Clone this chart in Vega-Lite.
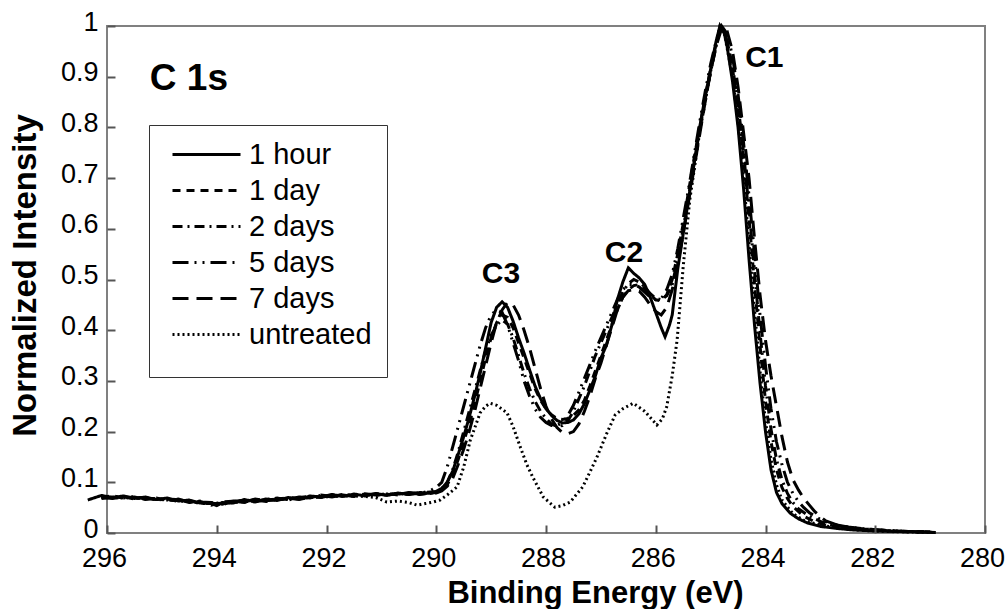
{
"$schema": "https://vega.github.io/schema/vega-lite/v6.json",
"width": 878, "height": 507,
"autosize": "none",
"padding": {"left": 107, "top": 26, "right": 20, "bottom": 76},
"background": "white",
"config": {"view": {"stroke": "#808080", "strokeWidth": 2}, "font": "Liberation Sans"},
"datasets": {
"spectra": [
{"s":"1 hour","x":296.35,"y":0.065},{"s":"1 hour","x":296.3,"y":0.067},{"s":"1 hour","x":296.1,"y":0.074},{"s":"1 hour","x":295.9,"y":0.070},{"s":"1 hour","x":295.7,"y":0.073},{"s":"1 hour","x":295.5,"y":0.068},{"s":"1 hour","x":295.3,"y":0.071},{"s":"1 hour","x":295.1,"y":0.066},{"s":"1 hour","x":294.9,"y":0.069},{"s":"1 hour","x":294.7,"y":0.063},{"s":"1 hour","x":294.5,"y":0.065},{"s":"1 hour","x":294.3,"y":0.059},{"s":"1 hour","x":294.1,"y":0.058},{"s":"1 hour","x":294.0,"y":0.054},{"s":"1 hour","x":293.9,"y":0.060},{"s":"1 hour","x":293.7,"y":0.059},{"s":"1 hour","x":293.5,"y":0.066},{"s":"1 hour","x":293.3,"y":0.062},{"s":"1 hour","x":293.1,"y":0.067},{"s":"1 hour","x":292.9,"y":0.064},{"s":"1 hour","x":292.7,"y":0.070},{"s":"1 hour","x":292.5,"y":0.067},{"s":"1 hour","x":292.3,"y":0.073},{"s":"1 hour","x":292.1,"y":0.071},{"s":"1 hour","x":291.9,"y":0.076},{"s":"1 hour","x":291.7,"y":0.072},{"s":"1 hour","x":291.5,"y":0.077},{"s":"1 hour","x":291.3,"y":0.073},{"s":"1 hour","x":291.1,"y":0.078},{"s":"1 hour","x":290.9,"y":0.074},{"s":"1 hour","x":290.7,"y":0.079},{"s":"1 hour","x":290.5,"y":0.076},{"s":"1 hour","x":290.3,"y":0.080},{"s":"1 hour","x":290.1,"y":0.078},{"s":"1 hour","x":290.0,"y":0.082},{"s":"1 hour","x":289.9,"y":0.088},{"s":"1 hour","x":289.8,"y":0.100},{"s":"1 hour","x":289.7,"y":0.122},{"s":"1 hour","x":289.6,"y":0.155},{"s":"1 hour","x":289.5,"y":0.19},{"s":"1 hour","x":289.4,"y":0.228},{"s":"1 hour","x":289.3,"y":0.27},{"s":"1 hour","x":289.2,"y":0.315},{"s":"1 hour","x":289.1,"y":0.365},{"s":"1 hour","x":289.0,"y":0.415},{"s":"1 hour","x":288.9,"y":0.445},{"s":"1 hour","x":288.8,"y":0.456},{"s":"1 hour","x":288.7,"y":0.445},{"s":"1 hour","x":288.6,"y":0.418},{"s":"1 hour","x":288.5,"y":0.385},{"s":"1 hour","x":288.4,"y":0.355},{"s":"1 hour","x":288.3,"y":0.322},{"s":"1 hour","x":288.2,"y":0.29},{"s":"1 hour","x":288.1,"y":0.265},{"s":"1 hour","x":288.0,"y":0.245},{"s":"1 hour","x":287.9,"y":0.232},{"s":"1 hour","x":287.8,"y":0.222},{"s":"1 hour","x":287.7,"y":0.217},{"s":"1 hour","x":287.6,"y":0.218},{"s":"1 hour","x":287.5,"y":0.223},{"s":"1 hour","x":287.4,"y":0.235},{"s":"1 hour","x":287.3,"y":0.255},{"s":"1 hour","x":287.2,"y":0.282},{"s":"1 hour","x":287.1,"y":0.31},{"s":"1 hour","x":287.0,"y":0.345},{"s":"1 hour","x":286.9,"y":0.37},{"s":"1 hour","x":286.8,"y":0.41},{"s":"1 hour","x":286.7,"y":0.46},{"s":"1 hour","x":286.6,"y":0.495},{"s":"1 hour","x":286.5,"y":0.523},{"s":"1 hour","x":286.4,"y":0.512},{"s":"1 hour","x":286.3,"y":0.503},{"s":"1 hour","x":286.2,"y":0.49},{"s":"1 hour","x":286.1,"y":0.465},{"s":"1 hour","x":286.0,"y":0.435},{"s":"1 hour","x":285.9,"y":0.405},{"s":"1 hour","x":285.83,"y":0.387},{"s":"1 hour","x":285.75,"y":0.41},{"s":"1 hour","x":285.7,"y":0.43},{"s":"1 hour","x":285.6,"y":0.52},{"s":"1 hour","x":285.5,"y":0.59},{"s":"1 hour","x":285.4,"y":0.66},{"s":"1 hour","x":285.3,"y":0.73},{"s":"1 hour","x":285.2,"y":0.80},{"s":"1 hour","x":285.1,"y":0.86},{"s":"1 hour","x":285.0,"y":0.915},{"s":"1 hour","x":284.9,"y":0.97},{"s":"1 hour","x":284.83,"y":1.0},{"s":"1 hour","x":284.75,"y":0.985},{"s":"1 hour","x":284.7,"y":0.96},{"s":"1 hour","x":284.6,"y":0.89},{"s":"1 hour","x":284.5,"y":0.80},{"s":"1 hour","x":284.4,"y":0.68},{"s":"1 hour","x":284.3,"y":0.54},{"s":"1 hour","x":284.2,"y":0.41},{"s":"1 hour","x":284.1,"y":0.296},{"s":"1 hour","x":284.0,"y":0.20},{"s":"1 hour","x":283.9,"y":0.125},{"s":"1 hour","x":283.8,"y":0.08},{"s":"1 hour","x":283.7,"y":0.058},{"s":"1 hour","x":283.55,"y":0.039},{"s":"1 hour","x":283.4,"y":0.028},{"s":"1 hour","x":283.24,"y":0.02},{"s":"1 hour","x":283.0,"y":0.013},{"s":"1 hour","x":282.7,"y":0.009},{"s":"1 hour","x":282.4,"y":0.006},{"s":"1 hour","x":282.0,"y":0.004},{"s":"1 hour","x":281.6,"y":0.003},{"s":"1 hour","x":281.2,"y":0.002},{"s":"1 hour","x":280.9,"y":0.001},

{"s":"1 day","x":296.1,"y":0.069},{"s":"1 day","x":295.9,"y":0.074},{"s":"1 day","x":295.7,"y":0.068},{"s":"1 day","x":295.5,"y":0.071},{"s":"1 day","x":295.3,"y":0.066},{"s":"1 day","x":295.1,"y":0.069},{"s":"1 day","x":294.9,"y":0.064},{"s":"1 day","x":294.7,"y":0.066},{"s":"1 day","x":294.5,"y":0.060},{"s":"1 day","x":294.3,"y":0.062},{"s":"1 day","x":294.1,"y":0.055},{"s":"1 day","x":293.9,"y":0.061},{"s":"1 day","x":293.7,"y":0.063},{"s":"1 day","x":293.5,"y":0.060},{"s":"1 day","x":293.3,"y":0.066},{"s":"1 day","x":293.1,"y":0.063},{"s":"1 day","x":292.9,"y":0.068},{"s":"1 day","x":292.7,"y":0.066},{"s":"1 day","x":292.5,"y":0.071},{"s":"1 day","x":292.3,"y":0.069},{"s":"1 day","x":292.1,"y":0.075},{"s":"1 day","x":291.9,"y":0.072},{"s":"1 day","x":291.7,"y":0.076},{"s":"1 day","x":291.5,"y":0.073},{"s":"1 day","x":291.3,"y":0.077},{"s":"1 day","x":291.1,"y":0.074},{"s":"1 day","x":290.9,"y":0.078},{"s":"1 day","x":290.7,"y":0.075},{"s":"1 day","x":290.5,"y":0.079},{"s":"1 day","x":290.3,"y":0.076},{"s":"1 day","x":290.1,"y":0.079},{"s":"1 day","x":290.0,"y":0.080},{"s":"1 day","x":289.9,"y":0.085},{"s":"1 day","x":289.8,"y":0.095},{"s":"1 day","x":289.7,"y":0.115},{"s":"1 day","x":289.6,"y":0.145},{"s":"1 day","x":289.5,"y":0.18},{"s":"1 day","x":289.4,"y":0.215},{"s":"1 day","x":289.3,"y":0.255},{"s":"1 day","x":289.2,"y":0.30},{"s":"1 day","x":289.1,"y":0.345},{"s":"1 day","x":289.0,"y":0.385},{"s":"1 day","x":288.9,"y":0.415},{"s":"1 day","x":288.8,"y":0.43},{"s":"1 day","x":288.7,"y":0.425},{"s":"1 day","x":288.6,"y":0.405},{"s":"1 day","x":288.5,"y":0.375},{"s":"1 day","x":288.4,"y":0.345},{"s":"1 day","x":288.3,"y":0.315},{"s":"1 day","x":288.2,"y":0.285},{"s":"1 day","x":288.1,"y":0.262},{"s":"1 day","x":288.0,"y":0.245},{"s":"1 day","x":287.9,"y":0.233},{"s":"1 day","x":287.8,"y":0.226},{"s":"1 day","x":287.7,"y":0.224},{"s":"1 day","x":287.6,"y":0.226},{"s":"1 day","x":287.5,"y":0.232},{"s":"1 day","x":287.4,"y":0.243},{"s":"1 day","x":287.3,"y":0.262},{"s":"1 day","x":287.2,"y":0.29},{"s":"1 day","x":287.1,"y":0.32},{"s":"1 day","x":287.0,"y":0.35},{"s":"1 day","x":286.9,"y":0.38},{"s":"1 day","x":286.8,"y":0.41},{"s":"1 day","x":286.7,"y":0.44},{"s":"1 day","x":286.6,"y":0.465},{"s":"1 day","x":286.5,"y":0.48},{"s":"1 day","x":286.4,"y":0.488},{"s":"1 day","x":286.3,"y":0.49},{"s":"1 day","x":286.2,"y":0.482},{"s":"1 day","x":286.1,"y":0.47},{"s":"1 day","x":286.0,"y":0.46},{"s":"1 day","x":285.9,"y":0.458},{"s":"1 day","x":285.8,"y":0.47},{"s":"1 day","x":285.7,"y":0.50},{"s":"1 day","x":285.6,"y":0.55},{"s":"1 day","x":285.5,"y":0.61},{"s":"1 day","x":285.4,"y":0.675},{"s":"1 day","x":285.3,"y":0.74},{"s":"1 day","x":285.2,"y":0.80},{"s":"1 day","x":285.1,"y":0.86},{"s":"1 day","x":285.0,"y":0.915},{"s":"1 day","x":284.9,"y":0.965},{"s":"1 day","x":284.82,"y":1.0},{"s":"1 day","x":284.75,"y":0.99},{"s":"1 day","x":284.7,"y":0.97},{"s":"1 day","x":284.6,"y":0.915},{"s":"1 day","x":284.5,"y":0.84},{"s":"1 day","x":284.4,"y":0.74},{"s":"1 day","x":284.3,"y":0.62},{"s":"1 day","x":284.2,"y":0.49},{"s":"1 day","x":284.1,"y":0.37},{"s":"1 day","x":284.0,"y":0.26},{"s":"1 day","x":283.9,"y":0.18},{"s":"1 day","x":283.8,"y":0.125},{"s":"1 day","x":283.7,"y":0.09},{"s":"1 day","x":283.6,"y":0.068},{"s":"1 day","x":283.5,"y":0.052},{"s":"1 day","x":283.3,"y":0.033},{"s":"1 day","x":283.1,"y":0.022},{"s":"1 day","x":282.9,"y":0.015},{"s":"1 day","x":282.6,"y":0.01},{"s":"1 day","x":282.3,"y":0.007},{"s":"1 day","x":282.0,"y":0.005},{"s":"1 day","x":281.6,"y":0.003},{"s":"1 day","x":281.2,"y":0.002},{"s":"1 day","x":280.9,"y":0.001},

{"s":"2 days","x":296.1,"y":0.072},{"s":"2 days","x":295.9,"y":0.069},{"s":"2 days","x":295.7,"y":0.072},{"s":"2 days","x":295.5,"y":0.067},{"s":"2 days","x":295.3,"y":0.070},{"s":"2 days","x":295.1,"y":0.065},{"s":"2 days","x":294.9,"y":0.067},{"s":"2 days","x":294.7,"y":0.062},{"s":"2 days","x":294.5,"y":0.064},{"s":"2 days","x":294.3,"y":0.058},{"s":"2 days","x":294.1,"y":0.059},{"s":"2 days","x":293.9,"y":0.056},{"s":"2 days","x":293.7,"y":0.062},{"s":"2 days","x":293.5,"y":0.065},{"s":"2 days","x":293.3,"y":0.061},{"s":"2 days","x":293.1,"y":0.066},{"s":"2 days","x":292.9,"y":0.069},{"s":"2 days","x":292.7,"y":0.065},{"s":"2 days","x":292.5,"y":0.070},{"s":"2 days","x":292.3,"y":0.072},{"s":"2 days","x":292.1,"y":0.070},{"s":"2 days","x":291.9,"y":0.075},{"s":"2 days","x":291.7,"y":0.073},{"s":"2 days","x":291.5,"y":0.076},{"s":"2 days","x":291.3,"y":0.074},{"s":"2 days","x":291.1,"y":0.077},{"s":"2 days","x":290.9,"y":0.075},{"s":"2 days","x":290.7,"y":0.078},{"s":"2 days","x":290.5,"y":0.076},{"s":"2 days","x":290.3,"y":0.079},{"s":"2 days","x":290.1,"y":0.081},{"s":"2 days","x":290.0,"y":0.082},{"s":"2 days","x":289.9,"y":0.088},{"s":"2 days","x":289.8,"y":0.10},{"s":"2 days","x":289.7,"y":0.125},{"s":"2 days","x":289.6,"y":0.16},{"s":"2 days","x":289.5,"y":0.20},{"s":"2 days","x":289.4,"y":0.24},{"s":"2 days","x":289.3,"y":0.28},{"s":"2 days","x":289.2,"y":0.32},{"s":"2 days","x":289.1,"y":0.36},{"s":"2 days","x":289.0,"y":0.39},{"s":"2 days","x":288.9,"y":0.41},{"s":"2 days","x":288.8,"y":0.42},{"s":"2 days","x":288.7,"y":0.412},{"s":"2 days","x":288.6,"y":0.385},{"s":"2 days","x":288.5,"y":0.35},{"s":"2 days","x":288.4,"y":0.315},{"s":"2 days","x":288.3,"y":0.285},{"s":"2 days","x":288.2,"y":0.26},{"s":"2 days","x":288.1,"y":0.24},{"s":"2 days","x":288.0,"y":0.226},{"s":"2 days","x":287.9,"y":0.215},{"s":"2 days","x":287.8,"y":0.21},{"s":"2 days","x":287.7,"y":0.212},{"s":"2 days","x":287.6,"y":0.222},{"s":"2 days","x":287.5,"y":0.24},{"s":"2 days","x":287.4,"y":0.265},{"s":"2 days","x":287.3,"y":0.29},{"s":"2 days","x":287.2,"y":0.32},{"s":"2 days","x":287.1,"y":0.35},{"s":"2 days","x":287.0,"y":0.375},{"s":"2 days","x":286.9,"y":0.40},{"s":"2 days","x":286.8,"y":0.425},{"s":"2 days","x":286.7,"y":0.45},{"s":"2 days","x":286.6,"y":0.475},{"s":"2 days","x":286.5,"y":0.492},{"s":"2 days","x":286.4,"y":0.50},{"s":"2 days","x":286.3,"y":0.495},{"s":"2 days","x":286.2,"y":0.485},{"s":"2 days","x":286.1,"y":0.472},{"s":"2 days","x":286.0,"y":0.463},{"s":"2 days","x":285.9,"y":0.46},{"s":"2 days","x":285.8,"y":0.468},{"s":"2 days","x":285.7,"y":0.49},{"s":"2 days","x":285.6,"y":0.54},{"s":"2 days","x":285.5,"y":0.60},{"s":"2 days","x":285.4,"y":0.665},{"s":"2 days","x":285.3,"y":0.73},{"s":"2 days","x":285.2,"y":0.795},{"s":"2 days","x":285.1,"y":0.855},{"s":"2 days","x":285.0,"y":0.91},{"s":"2 days","x":284.9,"y":0.96},{"s":"2 days","x":284.82,"y":1.0},{"s":"2 days","x":284.75,"y":0.99},{"s":"2 days","x":284.7,"y":0.97},{"s":"2 days","x":284.6,"y":0.92},{"s":"2 days","x":284.5,"y":0.845},{"s":"2 days","x":284.4,"y":0.75},{"s":"2 days","x":284.3,"y":0.64},{"s":"2 days","x":284.2,"y":0.515},{"s":"2 days","x":284.1,"y":0.395},{"s":"2 days","x":284.0,"y":0.29},{"s":"2 days","x":283.9,"y":0.205},{"s":"2 days","x":283.8,"y":0.145},{"s":"2 days","x":283.7,"y":0.105},{"s":"2 days","x":283.6,"y":0.078},{"s":"2 days","x":283.5,"y":0.06},{"s":"2 days","x":283.4,"y":0.048},{"s":"2 days","x":283.2,"y":0.033},{"s":"2 days","x":283.0,"y":0.023},{"s":"2 days","x":282.8,"y":0.016},{"s":"2 days","x":282.5,"y":0.011},{"s":"2 days","x":282.2,"y":0.008},{"s":"2 days","x":281.8,"y":0.005},{"s":"2 days","x":281.4,"y":0.003},{"s":"2 days","x":281.0,"y":0.002},

{"s":"5 days","x":296.1,"y":0.068},{"s":"5 days","x":295.9,"y":0.071},{"s":"5 days","x":295.7,"y":0.069},{"s":"5 days","x":295.5,"y":0.072},{"s":"5 days","x":295.3,"y":0.067},{"s":"5 days","x":295.1,"y":0.068},{"s":"5 days","x":294.9,"y":0.065},{"s":"5 days","x":294.7,"y":0.067},{"s":"5 days","x":294.5,"y":0.061},{"s":"5 days","x":294.3,"y":0.063},{"s":"5 days","x":294.1,"y":0.056},{"s":"5 days","x":293.9,"y":0.059},{"s":"5 days","x":293.7,"y":0.060},{"s":"5 days","x":293.5,"y":0.064},{"s":"5 days","x":293.3,"y":0.065},{"s":"5 days","x":293.1,"y":0.062},{"s":"5 days","x":292.9,"y":0.067},{"s":"5 days","x":292.7,"y":0.069},{"s":"5 days","x":292.5,"y":0.066},{"s":"5 days","x":292.3,"y":0.071},{"s":"5 days","x":292.1,"y":0.074},{"s":"5 days","x":291.9,"y":0.071},{"s":"5 days","x":291.7,"y":0.075},{"s":"5 days","x":291.5,"y":0.074},{"s":"5 days","x":291.3,"y":0.077},{"s":"5 days","x":291.1,"y":0.075},{"s":"5 days","x":290.9,"y":0.077},{"s":"5 days","x":290.7,"y":0.076},{"s":"5 days","x":290.5,"y":0.080},{"s":"5 days","x":290.3,"y":0.078},{"s":"5 days","x":290.1,"y":0.084},{"s":"5 days","x":290.0,"y":0.090},{"s":"5 days","x":289.9,"y":0.10},{"s":"5 days","x":289.8,"y":0.13},{"s":"5 days","x":289.7,"y":0.17},{"s":"5 days","x":289.6,"y":0.21},{"s":"5 days","x":289.5,"y":0.25},{"s":"5 days","x":289.4,"y":0.29},{"s":"5 days","x":289.3,"y":0.33},{"s":"5 days","x":289.2,"y":0.37},{"s":"5 days","x":289.1,"y":0.405},{"s":"5 days","x":289.0,"y":0.43},{"s":"5 days","x":288.9,"y":0.44},{"s":"5 days","x":288.8,"y":0.435},{"s":"5 days","x":288.7,"y":0.41},{"s":"5 days","x":288.6,"y":0.375},{"s":"5 days","x":288.5,"y":0.34},{"s":"5 days","x":288.4,"y":0.30},{"s":"5 days","x":288.3,"y":0.27},{"s":"5 days","x":288.2,"y":0.245},{"s":"5 days","x":288.1,"y":0.228},{"s":"5 days","x":288.0,"y":0.218},{"s":"5 days","x":287.9,"y":0.212},{"s":"5 days","x":287.8,"y":0.212},{"s":"5 days","x":287.7,"y":0.218},{"s":"5 days","x":287.6,"y":0.232},{"s":"5 days","x":287.5,"y":0.252},{"s":"5 days","x":287.4,"y":0.278},{"s":"5 days","x":287.3,"y":0.305},{"s":"5 days","x":287.2,"y":0.332},{"s":"5 days","x":287.1,"y":0.36},{"s":"5 days","x":287.0,"y":0.385},{"s":"5 days","x":286.9,"y":0.41},{"s":"5 days","x":286.8,"y":0.435},{"s":"5 days","x":286.7,"y":0.46},{"s":"5 days","x":286.6,"y":0.48},{"s":"5 days","x":286.5,"y":0.49},{"s":"5 days","x":286.4,"y":0.49},{"s":"5 days","x":286.3,"y":0.485},{"s":"5 days","x":286.2,"y":0.475},{"s":"5 days","x":286.1,"y":0.465},{"s":"5 days","x":286.0,"y":0.46},{"s":"5 days","x":285.9,"y":0.462},{"s":"5 days","x":285.8,"y":0.48},{"s":"5 days","x":285.7,"y":0.51},{"s":"5 days","x":285.6,"y":0.56},{"s":"5 days","x":285.5,"y":0.62},{"s":"5 days","x":285.4,"y":0.68},{"s":"5 days","x":285.3,"y":0.745},{"s":"5 days","x":285.2,"y":0.81},{"s":"5 days","x":285.1,"y":0.87},{"s":"5 days","x":285.0,"y":0.925},{"s":"5 days","x":284.9,"y":0.97},{"s":"5 days","x":284.8,"y":1.0},{"s":"5 days","x":284.7,"y":0.985},{"s":"5 days","x":284.6,"y":0.94},{"s":"5 days","x":284.5,"y":0.865},{"s":"5 days","x":284.4,"y":0.77},{"s":"5 days","x":284.3,"y":0.665},{"s":"5 days","x":284.2,"y":0.55},{"s":"5 days","x":284.1,"y":0.43},{"s":"5 days","x":284.0,"y":0.33},{"s":"5 days","x":283.9,"y":0.245},{"s":"5 days","x":283.8,"y":0.18},{"s":"5 days","x":283.7,"y":0.135},{"s":"5 days","x":283.6,"y":0.10},{"s":"5 days","x":283.5,"y":0.078},{"s":"5 days","x":283.4,"y":0.062},{"s":"5 days","x":283.3,"y":0.05},{"s":"5 days","x":283.2,"y":0.04},{"s":"5 days","x":283.0,"y":0.027},{"s":"5 days","x":282.8,"y":0.018},{"s":"5 days","x":282.5,"y":0.012},{"s":"5 days","x":282.2,"y":0.008},{"s":"5 days","x":281.8,"y":0.005},{"s":"5 days","x":281.4,"y":0.003},{"s":"5 days","x":281.0,"y":0.002},

{"s":"7 days","x":296.1,"y":0.070},{"s":"7 days","x":295.9,"y":0.068},{"s":"7 days","x":295.7,"y":0.071},{"s":"7 days","x":295.5,"y":0.070},{"s":"7 days","x":295.3,"y":0.069},{"s":"7 days","x":295.1,"y":0.066},{"s":"7 days","x":294.9,"y":0.068},{"s":"7 days","x":294.7,"y":0.065},{"s":"7 days","x":294.5,"y":0.063},{"s":"7 days","x":294.3,"y":0.061},{"s":"7 days","x":294.1,"y":0.060},{"s":"7 days","x":293.9,"y":0.057},{"s":"7 days","x":293.7,"y":0.063},{"s":"7 days","x":293.5,"y":0.061},{"s":"7 days","x":293.3,"y":0.067},{"s":"7 days","x":293.1,"y":0.064},{"s":"7 days","x":292.9,"y":0.066},{"s":"7 days","x":292.7,"y":0.070},{"s":"7 days","x":292.5,"y":0.068},{"s":"7 days","x":292.3,"y":0.070},{"s":"7 days","x":292.1,"y":0.072},{"s":"7 days","x":291.9,"y":0.073},{"s":"7 days","x":291.7,"y":0.075},{"s":"7 days","x":291.5,"y":0.072},{"s":"7 days","x":291.3,"y":0.076},{"s":"7 days","x":291.1,"y":0.077},{"s":"7 days","x":290.9,"y":0.076},{"s":"7 days","x":290.7,"y":0.077},{"s":"7 days","x":290.5,"y":0.078},{"s":"7 days","x":290.3,"y":0.077},{"s":"7 days","x":290.1,"y":0.079},{"s":"7 days","x":290.0,"y":0.079},{"s":"7 days","x":289.9,"y":0.083},{"s":"7 days","x":289.8,"y":0.092},{"s":"7 days","x":289.7,"y":0.108},{"s":"7 days","x":289.6,"y":0.135},{"s":"7 days","x":289.5,"y":0.165},{"s":"7 days","x":289.4,"y":0.20},{"s":"7 days","x":289.3,"y":0.24},{"s":"7 days","x":289.2,"y":0.285},{"s":"7 days","x":289.1,"y":0.33},{"s":"7 days","x":289.0,"y":0.375},{"s":"7 days","x":288.9,"y":0.415},{"s":"7 days","x":288.8,"y":0.44},{"s":"7 days","x":288.7,"y":0.455},{"s":"7 days","x":288.6,"y":0.45},{"s":"7 days","x":288.5,"y":0.43},{"s":"7 days","x":288.4,"y":0.40},{"s":"7 days","x":288.3,"y":0.365},{"s":"7 days","x":288.2,"y":0.325},{"s":"7 days","x":288.1,"y":0.285},{"s":"7 days","x":288.0,"y":0.25},{"s":"7 days","x":287.9,"y":0.225},{"s":"7 days","x":287.8,"y":0.208},{"s":"7 days","x":287.7,"y":0.198},{"s":"7 days","x":287.6,"y":0.196},{"s":"7 days","x":287.5,"y":0.20},{"s":"7 days","x":287.4,"y":0.215},{"s":"7 days","x":287.3,"y":0.24},{"s":"7 days","x":287.2,"y":0.27},{"s":"7 days","x":287.1,"y":0.305},{"s":"7 days","x":287.0,"y":0.335},{"s":"7 days","x":286.9,"y":0.37},{"s":"7 days","x":286.8,"y":0.405},{"s":"7 days","x":286.7,"y":0.44},{"s":"7 days","x":286.6,"y":0.465},{"s":"7 days","x":286.5,"y":0.478},{"s":"7 days","x":286.4,"y":0.48},{"s":"7 days","x":286.3,"y":0.477},{"s":"7 days","x":286.2,"y":0.465},{"s":"7 days","x":286.1,"y":0.45},{"s":"7 days","x":286.0,"y":0.437},{"s":"7 days","x":285.9,"y":0.43},{"s":"7 days","x":285.8,"y":0.445},{"s":"7 days","x":285.7,"y":0.48},{"s":"7 days","x":285.6,"y":0.53},{"s":"7 days","x":285.5,"y":0.59},{"s":"7 days","x":285.4,"y":0.655},{"s":"7 days","x":285.3,"y":0.72},{"s":"7 days","x":285.2,"y":0.785},{"s":"7 days","x":285.1,"y":0.85},{"s":"7 days","x":285.0,"y":0.91},{"s":"7 days","x":284.9,"y":0.96},{"s":"7 days","x":284.8,"y":0.995},{"s":"7 days","x":284.76,"y":1.0},{"s":"7 days","x":284.7,"y":0.99},{"s":"7 days","x":284.6,"y":0.95},{"s":"7 days","x":284.5,"y":0.88},{"s":"7 days","x":284.4,"y":0.79},{"s":"7 days","x":284.3,"y":0.70},{"s":"7 days","x":284.2,"y":0.58},{"s":"7 days","x":284.1,"y":0.47},{"s":"7 days","x":284.0,"y":0.38},{"s":"7 days","x":283.9,"y":0.31},{"s":"7 days","x":283.8,"y":0.25},{"s":"7 days","x":283.7,"y":0.19},{"s":"7 days","x":283.6,"y":0.14},{"s":"7 days","x":283.5,"y":0.105},{"s":"7 days","x":283.4,"y":0.085},{"s":"7 days","x":283.3,"y":0.068},{"s":"7 days","x":283.2,"y":0.055},{"s":"7 days","x":283.1,"y":0.042},{"s":"7 days","x":283.0,"y":0.032},{"s":"7 days","x":282.9,"y":0.024},{"s":"7 days","x":282.7,"y":0.016},{"s":"7 days","x":282.5,"y":0.012},{"s":"7 days","x":282.2,"y":0.008},{"s":"7 days","x":281.8,"y":0.005},{"s":"7 days","x":281.4,"y":0.003},{"s":"7 days","x":281.0,"y":0.002},

{"s":"untreated","x":296.1,"y":0.071},{"s":"untreated","x":295.9,"y":0.069},{"s":"untreated","x":295.7,"y":0.070},{"s":"untreated","x":295.5,"y":0.068},{"s":"untreated","x":295.3,"y":0.069},{"s":"untreated","x":295.1,"y":0.067},{"s":"untreated","x":294.9,"y":0.065},{"s":"untreated","x":294.7,"y":0.064},{"s":"untreated","x":294.5,"y":0.062},{"s":"untreated","x":294.3,"y":0.060},{"s":"untreated","x":294.1,"y":0.058},{"s":"untreated","x":293.9,"y":0.059},{"s":"untreated","x":293.7,"y":0.060},{"s":"untreated","x":293.5,"y":0.062},{"s":"untreated","x":293.3,"y":0.063},{"s":"untreated","x":293.1,"y":0.065},{"s":"untreated","x":292.9,"y":0.066},{"s":"untreated","x":292.7,"y":0.067},{"s":"untreated","x":292.5,"y":0.069},{"s":"untreated","x":292.3,"y":0.070},{"s":"untreated","x":292.1,"y":0.071},{"s":"untreated","x":291.9,"y":0.072},{"s":"untreated","x":291.7,"y":0.073},{"s":"untreated","x":291.5,"y":0.073},{"s":"untreated","x":291.3,"y":0.072},{"s":"untreated","x":291.1,"y":0.070},{"s":"untreated","x":290.9,"y":0.061},{"s":"untreated","x":290.7,"y":0.063},{"s":"untreated","x":290.5,"y":0.060},{"s":"untreated","x":290.35,"y":0.055},{"s":"untreated","x":290.2,"y":0.058},{"s":"untreated","x":290.06,"y":0.061},{"s":"untreated","x":289.93,"y":0.065},{"s":"untreated","x":289.8,"y":0.075},{"s":"untreated","x":289.62,"y":0.091},{"s":"untreated","x":289.5,"y":0.13},{"s":"untreated","x":289.38,"y":0.183},{"s":"untreated","x":289.2,"y":0.237},{"s":"untreated","x":289.1,"y":0.25},{"s":"untreated","x":289.02,"y":0.256},{"s":"untreated","x":288.9,"y":0.252},{"s":"untreated","x":288.71,"y":0.237},{"s":"untreated","x":288.6,"y":0.21},{"s":"untreated","x":288.47,"y":0.17},{"s":"untreated","x":288.35,"y":0.135},{"s":"untreated","x":288.24,"y":0.11},{"s":"untreated","x":288.05,"y":0.071},{"s":"untreated","x":287.84,"y":0.051},{"s":"untreated","x":287.7,"y":0.054},{"s":"untreated","x":287.56,"y":0.061},{"s":"untreated","x":287.33,"y":0.091},{"s":"untreated","x":287.2,"y":0.12},{"s":"untreated","x":287.07,"y":0.15},{"s":"untreated","x":286.89,"y":0.197},{"s":"untreated","x":286.74,"y":0.233},{"s":"untreated","x":286.6,"y":0.245},{"s":"untreated","x":286.41,"y":0.256},{"s":"untreated","x":286.2,"y":0.24},{"s":"untreated","x":285.98,"y":0.213},{"s":"untreated","x":285.88,"y":0.225},{"s":"untreated","x":285.8,"y":0.249},{"s":"untreated","x":285.7,"y":0.31},{"s":"untreated","x":285.61,"y":0.381},{"s":"untreated","x":285.5,"y":0.525},{"s":"untreated","x":285.38,"y":0.657},{"s":"untreated","x":285.2,"y":0.79},{"s":"untreated","x":285.0,"y":0.91},{"s":"untreated","x":284.9,"y":0.965},{"s":"untreated","x":284.83,"y":1.0},{"s":"untreated","x":284.75,"y":0.985},{"s":"untreated","x":284.6,"y":0.90},{"s":"untreated","x":284.5,"y":0.81},{"s":"untreated","x":284.4,"y":0.70},{"s":"untreated","x":284.3,"y":0.57},{"s":"untreated","x":284.2,"y":0.44},{"s":"untreated","x":284.1,"y":0.32},{"s":"untreated","x":284.0,"y":0.22},{"s":"untreated","x":283.9,"y":0.145},{"s":"untreated","x":283.8,"y":0.095},{"s":"untreated","x":283.7,"y":0.065},{"s":"untreated","x":283.5,"y":0.038},{"s":"untreated","x":283.3,"y":0.025},{"s":"untreated","x":283.0,"y":0.015},{"s":"untreated","x":282.6,"y":0.009},{"s":"untreated","x":282.2,"y":0.005},{"s":"untreated","x":281.8,"y":0.003},{"s":"untreated","x":281.4,"y":0.002},{"s":"untreated","x":281.0,"y":0.001}
],
"peaks": [
{"t":"C1","x":284.37,"y":0.919},
{"t":"C2","x":286.93,"y":0.535},
{"t":"C3","x":289.17,"y":0.493}
],
"panel": [
{"t":"C 1s","x":295.22,"y":0.874}
]
},
"encoding": {
"x": {"field": "x", "type": "quantitative",
 "scale": {"domain": [280, 296], "reverse": true, "nice": false, "zero": false},
 "axis": {"values": [296,294,292,290,288,286,284,282,280], "format": "d", "grid": false, "zindex": 1,
  "offset": -8, "domain": false,
  "tickSize": 8, "tickColor": "#555555", "tickWidth": 2,
  "labelFont": "Liberation Sans", "labelFontSize": 27, "labelColor": "black", "labelPadding": 12, "labelOffset": -3,
  "labelFlush": false, "labelOverlap": false,
  "title": "Binding Energy (eV)", "titleFont": "Liberation Sans", "titleFontSize": 31, "titleFontWeight": "bold",
  "titleColor": "black", "titleX": 488, "titleY": 77, "titleBaseline": "alphabetic", "titleAlign": "center"}},
"y": {"field": "y", "type": "quantitative",
 "scale": {"domain": [0, 1], "nice": false, "zero": false},
 "axis": {"values": [0,0.1,0.2,0.3,0.4,0.5,0.6,0.7,0.8,0.9,1], "format": ".1~f", "grid": false, "zindex": 1,
  "offset": -8, "domain": false,
  "tickSize": 8, "tickColor": "#555555", "tickWidth": 2,
  "labelFont": "Liberation Sans", "labelFontSize": 27, "labelColor": "black", "labelPadding": 9, "labelOffset": -4,
  "labelFlush": false, "labelOverlap": false,
  "title": "Normalized Intensity", "titleFont": "Liberation Sans", "titleFontSize": 33, "titleFontWeight": "bold",
  "titleColor": "black", "titleX": -80, "titleY": 249, "titleAngle": 270, "titleBaseline": "alphabetic", "titleAlign": "center"}}
},
"layer": [
{
"data": {"name": "spectra"},
"mark": {"type": "line", "color": "black", "strokeWidth": 3, "clip": false},
"encoding": {
 "strokeDash": {"field": "s", "type": "nominal",
  "scale": {"domain": ["1 hour","1 day","2 days","5 days","7 days","untreated"],
   "range": [[1,0],[8,6],[10,5,2,5],[16,6,2,6,2,6],[16,8],[2,3]]},
  "legend": {"orient": "none", "legendX": 42, "legendY": 99, "title": " ", "titleOrient": "bottom",
   "titleFontSize": 8, "titlePadding": 4,
   "padding": 15, "strokeColor": "#333333", "fillColor": "white",
   "symbolType": "M -3.4 0 L 3.4 0", "symbolSize": 400, "symbolStrokeWidth": 3, "symbolStrokeColor": "black",
   "symbolOffset": 28, "labelOffset": 28, "labelFont": "Liberation Sans", "labelFontSize": 29, "labelColor": "black",
   "rowPadding": 6, "labelLimit": 300}}
}
},
{
"data": {"name": "peaks"},
"mark": {"type": "text", "align": "left", "baseline": "alphabetic", "font": "Liberation Sans", "fontWeight": "bold", "fontSize": 30, "color": "black"},
"encoding": {"text": {"field": "t", "type": "nominal"}}
},
{
"data": {"name": "panel"},
"mark": {"type": "text", "align": "left", "baseline": "alphabetic", "font": "Liberation Sans", "fontWeight": "bold", "fontSize": 37, "color": "black"},
"encoding": {"text": {"field": "t", "type": "nominal"}}
}
]
}
